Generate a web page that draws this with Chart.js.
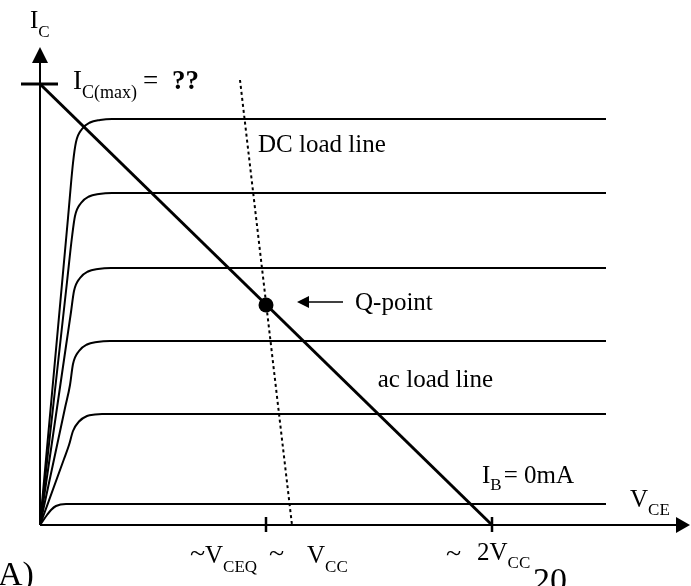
<!DOCTYPE html>
<html>
<head>
<meta charset="utf-8">
<script src="https://cdn.jsdelivr.net/npm/chart.js@4.4.0/dist/chart.umd.min.js"></script>
<style>
  html, body { margin: 0; padding: 0; background: #fff; }
  canvas { display: block; }
</style>
</head>
<body>
<canvas id="g_bjt" width="691" height="586"></canvas>
<script>
// Courbes caractéristiques IC = f(VCE), unités arbitraires
const vceIB5 = [0, 2.8, 3.3, 3.6, 4.2, 5.0, 6.0, 7.2, 56.6];
const icIB5  = [0, 30.7, 36.2, 38.3, 39.6, 40.25, 40.5, 40.6, 40.6];
const vceIB4 = [0, 2.7, 3.2, 3.5, 4.1, 4.9, 5.9, 7.2, 56.6];
const icIB4  = [0, 24.3, 28.8, 30.9, 32.2, 32.85, 33.1, 33.2, 33.2];
const vceIB3 = [0, 2.6, 3.1, 3.4, 4.0, 4.8, 5.8, 7.1, 56.6];
const icIB3  = [0, 17.9, 21.3, 23.4, 24.7, 25.35, 25.6, 25.7, 25.7];
const vceIB2 = [0, 2.5, 3.0, 3.3, 3.9, 4.7, 5.7, 7.0, 56.6];
const icIB2  = [0, 11.7, 14.0, 16.1, 17.4, 18.05, 18.3, 18.4, 18.4];
const vceIB1 = [0, 2.4, 2.9, 3.3, 3.9, 4.7, 5.5, 6.2, 56.6];
const icIB1  = [0, 6.6, 8.0, 9.4, 10.35, 10.9, 11.05, 11.1, 11.1];
const vceIB0 = [0, 0.7, 1.1, 1.6, 2.6, 56.6];
const icIB0  = [0, 1.0, 1.5, 1.9, 2.1, 2.1];

// droites de charge et point de repos
const vceCharge = [0, 45.2];
const icCharge  = [44.1, 0];
const vceDC = [20.0, 25.2];
const icDC  = [44.5, 0];
const vceQ = [22.6];
const icQ  = [22.0];

// axes
const vceMaxAxe = 65;
const icMaxAxe = 47.8;
const icMax = 44.1;
const graduationsX = [22.6, 45.2];

//On transforme deux tableaux en points {x, y}
function points(xs, ys) {
    let pts = [];
    for (let i = 0; i < xs.length; i++) {
        pts.push({ x: xs[i], y: ys[i] });
    }
    return pts;
}

function courbe(xs, ys) {
    return {
        data: points(xs, ys),
        borderColor: '#000',
        borderWidth: 2,
        pointRadius: 0,
        cubicInterpolationMode: 'monotone',
        fill: false
    };
}

//Texte avec indice
function texteIndice(ctx, x, y, principal, indice, taille, tailleIndice, decalage) {
    ctx.font = taille + 'px "Liberation Serif"';
    ctx.fillText(principal, x, y);
    let w = ctx.measureText(principal).width;
    ctx.font = tailleIndice + 'px "Liberation Serif"';
    ctx.fillText(indice, x + w, y + decalage);
    return x + w + ctx.measureText(indice).width;
}

const dessinAxes = {
    id: 'dessinAxes',
    afterDatasetsDraw(chart) {
        const ctx = chart.ctx;
        const sx = chart.scales.x;
        const sy = chart.scales.y;
        const x0 = sx.getPixelForValue(0);
        const y0 = sy.getPixelForValue(0);
        const xFin = sx.getPixelForValue(vceMaxAxe);
        const yFin = sy.getPixelForValue(icMaxAxe);
        ctx.save();
        ctx.strokeStyle = '#000';
        ctx.fillStyle = '#000';
        ctx.lineWidth = 2;
        // axe VCE
        ctx.beginPath();
        ctx.moveTo(x0, y0);
        ctx.lineTo(xFin - 10, y0);
        ctx.stroke();
        ctx.beginPath();
        ctx.moveTo(xFin, y0);
        ctx.lineTo(xFin - 14, y0 - 8);
        ctx.lineTo(xFin - 14, y0 + 8);
        ctx.closePath();
        ctx.fill();
        // axe IC
        ctx.beginPath();
        ctx.moveTo(x0, y0);
        ctx.lineTo(x0, yFin + 10);
        ctx.stroke();
        ctx.beginPath();
        ctx.moveTo(x0, yFin);
        ctx.lineTo(x0 - 8, yFin + 16);
        ctx.lineTo(x0 + 8, yFin + 16);
        ctx.closePath();
        ctx.fill();
        // graduation IC(max)
        ctx.lineWidth = 3;
        const yMax = sy.getPixelForValue(icMax);
        ctx.beginPath();
        ctx.moveTo(x0 - 19, yMax);
        ctx.lineTo(x0 + 18, yMax);
        ctx.stroke();
        // graduations VCE
        ctx.lineWidth = 2.5;
        for (let g of graduationsX) {
            const gx = sx.getPixelForValue(g);
            ctx.beginPath();
            ctx.moveTo(gx, y0 - 8);
            ctx.lineTo(gx, y0 + 7);
            ctx.stroke();
        }
        // flèche du point Q
        ctx.lineWidth = 1.5;
        ctx.beginPath();
        ctx.moveTo(343, 302);
        ctx.lineTo(305, 302);
        ctx.stroke();
        ctx.beginPath();
        ctx.moveTo(297, 302);
        ctx.lineTo(309, 296);
        ctx.lineTo(309, 308);
        ctx.closePath();
        ctx.fill();

        // textes
        ctx.textBaseline = 'alphabetic';
        texteIndice(ctx, 30, 28, 'I', 'C', 25, 17, 9);
        let fin = texteIndice(ctx, 73, 89, 'I', 'C(max)', 27, 18, 9);
        ctx.font = '27px "Liberation Serif"';
        ctx.fillText('=', fin + 6, 89);
        ctx.font = 'bold 27px "Liberation Serif"';
        ctx.fillText('??', fin + 35, 89);

        ctx.font = '25px "Liberation Serif"';
        ctx.fillText('DC load line', 258, 152);
        ctx.fillText('Q-point', 355, 310);
        ctx.textAlign = 'right';
        ctx.fillText('ac load line', 493, 387);
        ctx.textAlign = 'left';

        fin = texteIndice(ctx, 482, 483, 'I', 'B', 25, 17, 7);
        ctx.font = '25px "Liberation Serif"';
        ctx.fillText('= 0mA', fin + 2, 483);

        texteIndice(ctx, 630, 507, 'V', 'CE', 25, 17, 8);

        ctx.font = '28px "Liberation Serif"';
        ctx.fillText('~', 190, 562);
        texteIndice(ctx, 205, 563, 'V', 'CEQ', 25, 17, 9);
        ctx.font = '28px "Liberation Serif"';
        ctx.fillText('~', 269, 562);
        texteIndice(ctx, 307, 563, 'V', 'CC', 25, 17, 9);

        ctx.font = '28px "Liberation Serif"';
        ctx.fillText('~', 446, 562);
        texteIndice(ctx, 477, 560, '2V', 'CC', 25, 17, 8);

        ctx.font = '34px "Liberation Serif"';
        ctx.fillText('20', 533, 591);
        ctx.fillText('A)', -2, 585);
        ctx.restore();
    }
};

window.addEventListener('load', () => {
    let context = document.getElementById('g_bjt').getContext('2d');
    let datasets = [
        courbe(vceIB5, icIB5),
        courbe(vceIB4, icIB4),
        courbe(vceIB3, icIB3),
        courbe(vceIB2, icIB2),
        courbe(vceIB1, icIB1),
        courbe(vceIB0, icIB0),
        {
            data: points(vceDC, icDC),
            borderColor: '#000',
            borderWidth: 2,
            borderDash: [3, 3],
            pointRadius: 0
        },
        {
            data: points(vceCharge, icCharge),
            borderColor: '#000',
            borderWidth: 3,
            pointRadius: 0
        },
        {
            data: points(vceQ, icQ),
            showLine: false,
            pointRadius: 7.5,
            pointBackgroundColor: '#000',
            pointBorderColor: '#000',
            pointBorderWidth: 0
        }
    ];
    let config = {
        type: 'line',
        data: { datasets: datasets },
        options: {
            responsive: false,
            animation: false,
            clip: false,
            layout: { autoPadding: false, padding: { left: 0, right: 1, top: 0, bottom: 61 } },
            scales: {
                x: { type: 'linear', min: -4, max: 65, display: false },
                y: { type: 'linear', min: 0, max: 52.5, display: false }
            },
            plugins: {
                legend: { display: false },
                tooltip: { enabled: false }
            }
        },
        plugins: [dessinAxes]
    };
    new Chart(context, config);
});
</script>
</body>
</html>
